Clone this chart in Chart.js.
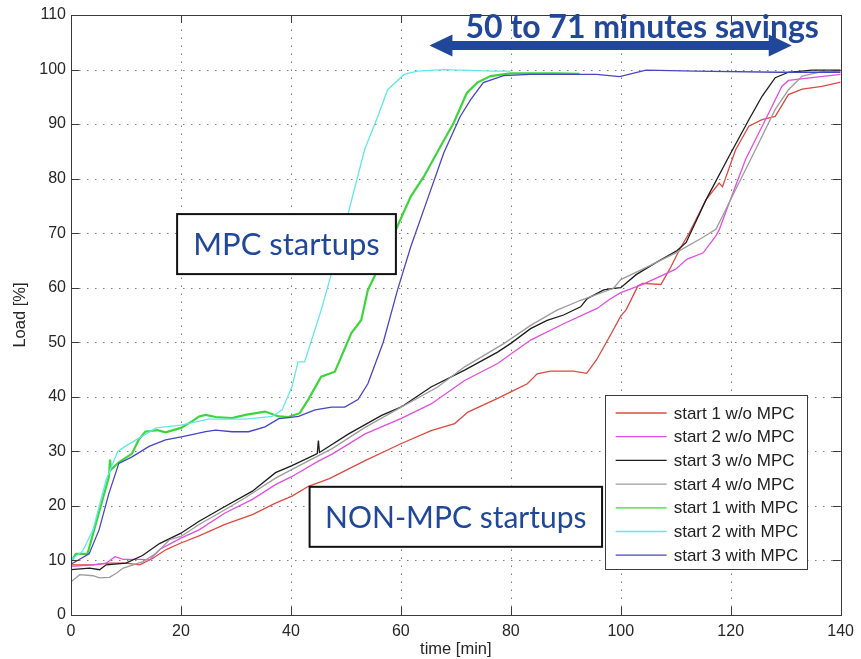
<!DOCTYPE html>
<html>
<head>
<meta charset="utf-8">
<script src="https://cdn.jsdelivr.net/npm/chart.js@4/dist/chart.umd.min.js"></script>
<style>
  html, body { margin: 0; padding: 0; background: #ffffff; }
  #wrap { width: 861px; height: 659px; }
</style>
</head>
<body>
<div id="wrap"><canvas id="c" width="861" height="659"></canvas></div>
<script>
// ---- axis ticks ----
const timeTicks = [0, 20, 40, 60, 80, 100, 120, 140];
const loadTicks = [0, 10, 20, 30, 40, 50, 60, 70, 80, 90, 100, 110];

// ---- series names ----
const seriesNames = [
  'start 1 w/o MPC', 'start 2 w/o MPC', 'start 3 w/o MPC', 'start 4 w/o MPC',
  'start 1 with MPC', 'start 2 with MPC', 'start 3 with MPC'
];

// ---- conventional startups (time in min, load in %) ----
const s1NoMpcTime = [0, 4, 7, 10, 12.5, 14.9, 17.3, 20, 23.3, 28, 33, 37.2, 40.2, 43.2, 47, 53.5, 60, 65.5, 69.8, 72.2, 77.6, 80, 83, 84.8, 87.2, 91.4, 93.8, 95.6, 96.5, 98, 100, 101, 103.1, 104, 107.3, 108.9, 110.7, 112.5, 115.5, 117.9, 118.5, 120.9, 123.3, 125.7, 128.1, 130.5, 133, 136.6, 140];
const s1NoMpcLoad = [9.2, 9.2, 9.5, 9.5, 9.2, 10.4, 12, 13.2, 14.5, 16.6, 18.4, 20.5, 21.8, 23.6, 25, 28.3, 31.4, 33.8, 35.1, 37.2, 39.7, 40.9, 42.4, 44.2, 44.7, 44.7, 44.3, 46.8, 48.4, 51.1, 54.8, 56, 60.3, 60.8, 60.6, 63.4, 67, 70.1, 76.1, 79.2, 78.5, 85.3, 89.6, 90.8, 91.4, 95.4, 96.4, 96.9, 97.7];

const s2NoMpcTime = [0, 4, 6.4, 8, 9.5, 12.5, 14.3, 16.1, 20, 23.3, 28, 33, 37.2, 40.2, 45, 47.5, 53.5, 60, 65.5, 71.6, 77.6, 83.6, 89.6, 95.7, 98, 100, 104, 110, 112, 115, 117.3, 117.9, 119.7, 122.7, 126.9, 129.3, 130.5, 134.8, 140];
const s2NoMpcLoad = [8.9, 9.2, 9.5, 10.7, 10.2, 10.2, 10.1, 12, 14.1, 15.6, 18.7, 21.2, 23.9, 25.4, 28.2, 29.5, 33.2, 36, 38.7, 43, 46.1, 50.4, 53.4, 56.2, 57.9, 59.1, 60.6, 63.4, 65.2, 66.4, 69.5, 70.6, 75.5, 83.5, 92, 96.9, 98, 98.5, 99.1];

const s3NoMpcTime = [0, 3.4, 5.2, 6.4, 10, 13, 16.1, 20, 23.3, 28, 33, 37.2, 40.2, 44.8, 45, 45.2, 50.5, 56.5, 60, 65.5, 71.6, 77.6, 80, 83.6, 86.6, 89.6, 92.7, 93.9, 96.9, 98.7, 100, 102.8, 106.4, 110.1, 111.9, 115.5, 119.7, 123.3, 125.7, 128.1, 130.5, 134.8, 140];
const s3NoMpcLoad = [8.3, 8.6, 8.3, 9.2, 9.5, 10.9, 13.1, 15, 17.2, 19.9, 22.7, 26.1, 27.4, 29.6, 32, 29.8, 33.2, 36.6, 38.1, 41.8, 44.9, 48.2, 49.8, 52.5, 54, 55, 56.5, 58, 59.6, 59.9, 60, 62.4, 64.6, 66.7, 68.3, 76.1, 84.1, 90.8, 95.1, 98.5, 99.5, 99.9, 99.9];

const s4NoMpcTime = [0, 1.6, 4, 5.2, 7, 8.3, 9.5, 13.1, 15.5, 17.9, 20, 23.3, 28, 31.7, 37.2, 40.2, 47.5, 53.5, 59.5, 66.7, 71.6, 78.8, 83.6, 88.4, 92.7, 98.7, 100, 104, 110, 114.9, 117.3, 118.5, 120.9, 124.5, 128.1, 130.5, 133, 136.6, 140];
const s4NoMpcLoad = [6.1, 7.4, 7.2, 6.8, 6.9, 7.7, 8.6, 9.8, 11.3, 13.8, 14.4, 16.6, 19.3, 21.5, 25.1, 26.7, 30.5, 34.4, 37.8, 41.8, 45.5, 49.8, 53.1, 55.9, 57.7, 59.9, 61.5, 63.4, 66.4, 69.2, 70.7, 73.1, 78, 85.3, 92.7, 96.3, 98.8, 99.6, 99.7];

// ---- MPC-controlled startups ----
const s1MpcTime = [0, 0.9, 3, 6.9, 7.1, 7.3, 8.7, 11.1, 12.3, 13.5, 15.7, 17.2, 20, 22, 23.3, 24.5, 26.3, 29.3, 31.7, 35.3, 37.8, 39.5, 41.6, 43.1, 45.5, 48, 48.8, 51, 52.8, 54, 55.8, 58.8, 61.8, 64.2, 67.2, 69.6, 72, 73.9, 76.3, 79.9, 88.3, 92.5];
const s1MpcLoad = [9.8, 11.2, 11.2, 25.4, 28.5, 26.7, 28.0, 29.6, 32.1, 33.6, 33.9, 33.5, 34.3, 35.5, 36.4, 36.7, 36.3, 36.1, 36.7, 37.3, 36.4, 36.3, 37.0, 39.4, 43.7, 44.6, 46.5, 51.7, 54.1, 59.6, 63.3, 70, 76.7, 80.4, 85.9, 90.2, 95.7, 97.6, 98.8, 99.3, 99.3, 99.2];

const s2MpcTime = [0, 2.1, 4, 6.4, 8.5, 10, 15.5, 20, 25, 31.7, 36.6, 38.4, 40.2, 41.3, 42.5, 45.5, 49.8, 53.4, 55.8, 57.6, 60.6, 63, 67.8, 76.9, 80];
const s2MpcLoad = [10.1, 11.7, 15.6, 24.8, 30, 31, 34.3, 34.8, 35.9, 35.9, 36.4, 37.6, 41.9, 46.4, 46.4, 55.9, 71.2, 85.3, 91.4, 96.3, 99.1, 99.7, 100, 99.7, 99.7];

const s3MpcTime = [0, 3.3, 5.1, 6.9, 8.7, 11.1, 14.2, 17.2, 20.3, 24.5, 26.3, 29.3, 32.3, 35.3, 37.8, 39.6, 41.4, 44.4, 47.4, 49.8, 52.2, 54, 56.8, 59.4, 61.8, 64.8, 67.8, 70.8, 72.7, 75, 78.7, 83.5, 95.6, 99.8, 104.6, 113.6, 128.7, 140];
const s3MpcLoad = [9.3, 11.2, 15.6, 22.3, 27.8, 29.0, 30.9, 32.1, 32.7, 33.6, 33.9, 33.6, 33.6, 34.5, 36.0, 36.2, 36.4, 37.6, 38.1, 38.1, 39.5, 42.4, 50, 59.6, 67.5, 76.1, 84.7, 91.4, 94.5, 97.6, 98.9, 99.1, 99.1, 98.7, 99.9, 99.7, 99.5, 99.5];

const seriesTimes = [s1NoMpcTime, s2NoMpcTime, s3NoMpcTime, s4NoMpcTime, s1MpcTime, s2MpcTime, s3MpcTime];
const seriesLoads = [s1NoMpcLoad, s2NoMpcLoad, s3NoMpcLoad, s4NoMpcLoad, s1MpcLoad, s2MpcLoad, s3MpcLoad];

// ---- styling ----
const lineColors = ['#dc4a40', '#e14fe1', '#1c1c1c', '#9c9c9c', '#3cd63c', '#62e8e8', '#4646c4'];
const lineWidths = [1.3, 1.3, 1.3, 1.3, 2.2, 1.3, 1.3];
const noteColor = '#21479a';
const noteFont = 'Lato, "Open Sans", sans-serif';
const axisFont = '"Liberation Sans", Arial, Helvetica, sans-serif';

Chart.defaults.font.family = axisFont;
Chart.defaults.color = '#262626';

const datasets = seriesNames.map((name, i) => ({
  label: name,
  data: seriesTimes[i].map((t, k) => ({ x: t, y: seriesLoads[i][k] })),
  borderColor: lineColors[i],
  backgroundColor: lineColors[i],
  borderWidth: lineWidths[i],
  pointRadius: 0,
  tension: 0,
  fill: false,
  order: seriesNames.length - i
}));

// dotted grid, framed axes with inward ticks, notes and legend
const framePlugin = {
  id: 'frame',
  beforeDatasetsDraw(chart) {
    const { ctx, chartArea: a, scales: { x, y } } = chart;
    ctx.save();
    ctx.strokeStyle = '#7c7c7c';
    ctx.lineWidth = 1;
    ctx.setLineDash([1.5, 6.5]);
    timeTicks.slice(1, -1).forEach(v => {
      const px = Math.round(x.getPixelForValue(v)) + 0.5;
      ctx.beginPath(); ctx.moveTo(px, a.bottom); ctx.lineTo(px, a.top); ctx.stroke();
    });
    loadTicks.slice(1, -1).forEach(v => {
      const py = Math.round(y.getPixelForValue(v)) + 0.5;
      ctx.beginPath(); ctx.moveTo(a.left, py); ctx.lineTo(a.right, py); ctx.stroke();
    });
    ctx.restore();
  },
  afterDatasetsDraw(chart) {
    const { ctx, chartArea: a, scales: { x, y } } = chart;
    ctx.save();

    // frame and inward tick marks
    ctx.strokeStyle = '#3a3a3a';
    ctx.lineWidth = 1;
    ctx.strokeRect(Math.round(a.left) + 0.5, Math.round(a.top) + 0.5,
                   Math.round(a.right - a.left), Math.round(a.bottom - a.top));
    const tl = 8;
    ctx.beginPath();
    timeTicks.forEach(v => {
      const px = Math.round(x.getPixelForValue(v)) + 0.5;
      ctx.moveTo(px, a.bottom); ctx.lineTo(px, a.bottom - tl);
      ctx.moveTo(px, a.top); ctx.lineTo(px, a.top + tl);
    });
    loadTicks.forEach(v => {
      const py = Math.round(y.getPixelForValue(v)) + 0.5;
      ctx.moveTo(a.left, py); ctx.lineTo(a.left + tl, py);
      ctx.moveTo(a.right, py); ctx.lineTo(a.right - tl, py);
    });
    ctx.stroke();

    // boxed notes
    const note = (text, t0, t1, v0, v1, size) => {
      const x0 = x.getPixelForValue(t0), x1 = x.getPixelForValue(t1);
      const y0 = y.getPixelForValue(v0), y1 = y.getPixelForValue(v1);
      ctx.fillStyle = '#ffffff';
      ctx.fillRect(x0, y0, x1 - x0, y1 - y0);
      ctx.strokeStyle = '#111111';
      ctx.lineWidth = 2;
      ctx.strokeRect(x0, y0, x1 - x0, y1 - y0);
      ctx.fillStyle = noteColor;
      ctx.font = size + 'px ' + noteFont;
      ctx.textAlign = 'center';
      ctx.textBaseline = 'alphabetic';
      ctx.fillText(text, (x0 + x1) / 2, (y0 + y1) / 2 + size * 0.36);
    };
    note('MPC startups', 19.3, 59.1, 73.5, 62.5, 31);
    note('NON-MPC startups', 43.4, 96.6, 23.5, 12.5, 30);

    // savings arrow with caption
    const ax0 = x.getPixelForValue(65.2), ax1 = x.getPixelForValue(131.1);
    const ay = y.getPixelForValue(104.4);
    const head = 23, halfHead = 11, halfShaft = 4.5;
    ctx.fillStyle = noteColor;
    ctx.beginPath();
    ctx.moveTo(ax0, ay);
    ctx.lineTo(ax0 + head, ay - halfHead);
    ctx.lineTo(ax0 + head, ay - halfShaft);
    ctx.lineTo(ax1 - head, ay - halfShaft);
    ctx.lineTo(ax1 - head, ay - halfHead);
    ctx.lineTo(ax1, ay);
    ctx.lineTo(ax1 - head, ay + halfHead);
    ctx.lineTo(ax1 - head, ay + halfShaft);
    ctx.lineTo(ax0 + head, ay + halfShaft);
    ctx.lineTo(ax0 + head, ay + halfHead);
    ctx.closePath();
    ctx.fill();
    ctx.font = 'bold 32px ' + noteFont;
    ctx.textAlign = 'center';
    ctx.textBaseline = 'alphabetic';
    ctx.fillText('50 to 71 minutes savings', x.getPixelForValue(103.9), y.getPixelForValue(105.8));

    // legend
    const lw = 202, lh = 174;
    const lx = a.right - 34 - lw, ly = a.bottom - 46 - lh;
    ctx.fillStyle = '#ffffff';
    ctx.fillRect(lx, ly, lw, lh);
    ctx.strokeStyle = '#3a3a3a';
    ctx.lineWidth = 1;
    ctx.strokeRect(Math.round(lx) + 0.5, Math.round(ly) + 0.5, lw, lh);
    ctx.font = '17px ' + axisFont;
    ctx.textAlign = 'left';
    ctx.textBaseline = 'middle';
    chart.data.datasets.forEach((ds, i) => {
      const cy = ly + 18 + i * 23.7;
      ctx.strokeStyle = ds.borderColor;
      ctx.lineWidth = 1.3;
      ctx.beginPath(); ctx.moveTo(lx + 11, cy); ctx.lineTo(lx + 62, cy); ctx.stroke();
      ctx.fillStyle = '#222222';
      ctx.fillText(ds.label, lx + 69, cy + 1);
    });
    ctx.restore();
  }
};

new Chart(document.getElementById('c'), {
  type: 'line',
  data: { datasets },
  options: {
    responsive: false,
    animation: false,
    devicePixelRatio: 1,
    layout: { padding: { left: 0, right: 15, top: 15, bottom: 0 } },
    plugins: { legend: { display: false }, tooltip: { enabled: false } },
    scales: {
      x: {
        type: 'linear', min: 0, max: 140,
        afterBuildTicks: s => { s.ticks = timeTicks.map(v => ({ value: v })); },
        afterFit: s => { s.height = 44; },
        grid: { display: false, drawTicks: false },
        border: { display: false },
        ticks: { padding: 7, font: { size: 16 }, color: '#262626', maxRotation: 0, autoSkip: false },
        title: { display: true, text: 'time [min]', font: { size: 16.5 }, color: '#262626', padding: { top: 0, bottom: 0 } }
      },
      y: {
        type: 'linear', min: 0, max: 110,
        afterBuildTicks: s => { s.ticks = loadTicks.map(v => ({ value: v })); },
        afterFit: s => { s.width = 71; },
        grid: { display: false, drawTicks: false },
        border: { display: false },
        ticks: { padding: 5, font: { size: 16 }, color: '#262626', autoSkip: false },
        title: { display: true, text: 'Load [%]', font: { size: 16.5 }, color: '#262626', padding: { top: 10.6, bottom: 0 } }
      }
    }
  },
  plugins: [framePlugin]
});
</script>
</body>
</html>
